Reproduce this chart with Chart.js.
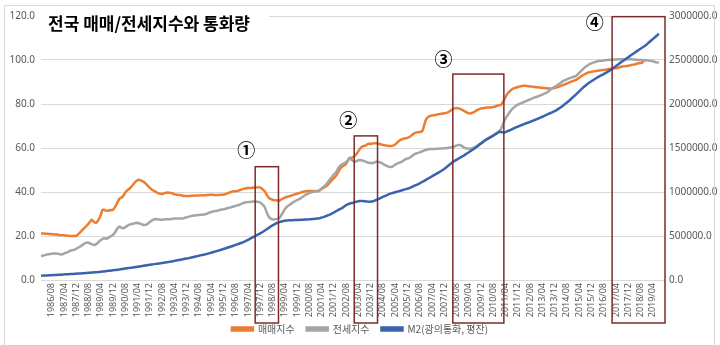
<!DOCTYPE html>
<html>
<head>
<meta charset="utf-8">
<script src="https://cdn.jsdelivr.net/npm/chart.js@4.4.0/dist/chart.umd.min.js"></script>
<style>
  html, body { margin: 0; padding: 0; background: #fff; }
  #wrap { width: 720px; height: 345px; position: relative; }
</style>
</head>
<body>
<div id="wrap"><canvas id="chart" width="720" height="345"></canvas></div>
<script>
// 월별 카테고리 1986/01 ~ 2019/12
var months = [];
for (var y = 1986; y <= 2019; y++) {
  for (var m = 1; m <= 12; m++) months.push(y + '/' + (m < 10 ? '0' + m : m));
}

// 축에 표시되는 라벨 (8개월 간격)
var tickLabels = ['1986/08','1987/04','1987/12','1988/08','1989/04','1989/12','1990/08','1991/04','1991/12','1992/08',
  '1993/04','1993/12','1994/08','1995/04','1995/12','1996/08','1997/04','1997/12','1998/08','1999/04',
  '1999/12','2000/08','2001/04','2001/12','2002/08','2003/04','2003/12','2004/08','2005/04','2005/12',
  '2006/08','2007/04','2007/12','2008/08','2009/04','2009/12','2010/08','2011/04','2011/12','2012/08',
  '2013/04','2013/12','2014/08','2015/04','2015/12','2016/08','2017/04','2017/12','2018/08','2019/04'];

// 매매지수 (연도별 12개월)
var saleIndex = [
  21.2,21.1,21.1,21.0,21.0,20.9,20.9,20.8,20.8,20.7,20.8,20.6,
  20.5,20.4,20.3,20.3,20.2,20.1,20.1,20.0,20.0,20.0,20.1,20.0,
  20.6,21.3,22.0,22.8,23.4,24.1,24.8,25.6,26.6,27.3,26.8,26.2,
  26.0,26.8,28.0,29.5,31.8,32.0,31.6,31.5,31.6,31.8,31.7,32.0,
  32.8,34.0,35.5,36.8,37.4,37.6,38.6,39.8,40.6,41.2,41.7,42.5,
  43.3,44.2,44.9,45.4,45.5,45.3,45.0,44.6,44.0,43.3,42.6,41.9,
  41.2,40.8,40.4,40.0,39.6,39.3,39.2,39.1,39.3,39.6,39.8,39.7,
  39.7,39.5,39.3,39.0,38.8,38.7,38.6,38.6,38.4,38.2,38.2,38.2,
  38.2,38.2,38.3,38.3,38.4,38.4,38.4,38.4,38.5,38.5,38.5,38.5,
  38.6,38.6,38.7,38.7,38.7,38.6,38.6,38.6,38.6,38.7,38.7,38.8,
  39.0,39.2,39.5,39.8,40.0,40.2,40.3,40.4,40.5,40.7,40.9,41.2,
  41.4,41.6,41.7,41.8,41.8,41.8,41.9,42.0,42.0,42.1,42.2,42.0,
  41.6,41.0,40.2,39.0,37.8,37.1,36.8,36.5,36.3,36.2,36.1,35.9,
  36.3,36.7,37.1,37.4,37.7,37.9,38.1,38.3,38.6,38.8,39.0,39.2,
  39.4,39.7,39.9,40.1,40.2,40.3,40.4,40.4,40.5,40.5,40.5,40.4,
  40.4,40.6,41.0,41.4,41.8,42.2,42.6,43.2,44.0,44.8,45.6,46.3,
  47.0,48.0,49.2,50.5,51.3,51.8,52.2,52.8,54.0,55.3,55.6,55.7,
  56.0,56.6,57.5,58.6,59.6,60.4,60.8,61.0,61.2,61.8,62.0,61.8,
  62.0,62.1,62.2,62.2,62.0,61.8,61.6,61.4,61.2,61.1,61.0,60.9,
  60.9,61.0,61.2,61.6,62.2,62.9,63.5,63.9,64.1,64.3,64.4,64.6,
  64.9,65.3,65.9,66.5,66.9,67.1,67.2,67.3,67.4,68.0,70.5,72.8,
  73.8,74.3,74.6,74.8,74.9,75.0,75.1,75.3,75.4,75.6,75.7,75.8,
  75.9,76.1,76.4,76.9,77.4,77.9,78.1,78.2,78.1,77.9,77.6,77.2,
  76.8,76.4,76.0,75.8,75.7,75.9,76.2,76.6,77.0,77.4,77.7,78.0,
  78.1,78.2,78.3,78.4,78.4,78.4,78.5,78.6,78.8,79.1,79.3,79.4,
  79.6,80.5,81.8,83.2,84.4,85.3,86.0,86.6,87.0,87.3,87.5,87.7,
  87.9,88.1,88.2,88.3,88.3,88.2,88.1,88.0,87.9,87.8,87.7,87.6,
  87.6,87.5,87.4,87.4,87.3,87.2,87.2,87.1,87.1,87.1,87.2,87.3,
  87.5,87.7,87.9,88.2,88.5,88.8,89.0,89.3,89.6,89.9,90.2,90.5,
  90.7,91.0,91.4,91.9,92.4,92.9,93.3,93.7,94.0,94.3,94.5,94.7,
  94.8,94.9,95.0,95.1,95.2,95.3,95.4,95.5,95.6,95.7,95.8,95.9,
  96.0,96.1,96.2,96.3,96.4,96.6,96.8,97.0,97.1,97.2,97.3,97.4,
  97.5,97.7,97.9,98.0,98.2,98.4,98.5,98.6,98.7,99.6,99.9,null,
  null,null,null,null,null,null,null,null,null,null,null,null
];

// 전세지수
var jeonseIndex = [
  10.9,11.0,11.2,11.4,11.6,11.7,11.8,11.9,12.0,12.1,12.1,11.9,
  11.8,11.6,11.7,12.0,12.3,12.6,12.9,13.3,13.5,13.6,13.8,14.2,
  14.6,15.0,15.4,15.9,16.4,16.8,17.0,16.9,16.6,16.3,16.0,15.9,
  16.3,16.9,17.6,18.2,18.6,19.0,18.9,18.8,19.2,19.7,20.1,20.5,
  21.3,22.5,23.6,24.2,24.0,23.5,23.6,24.0,24.5,24.9,25.2,25.5,
  25.6,25.8,25.9,26.0,25.8,25.5,25.2,25.0,25.0,25.3,25.8,26.4,
  26.9,27.3,27.6,27.7,27.6,27.5,27.4,27.4,27.5,27.6,27.6,27.6,
  27.6,27.7,27.8,27.9,27.9,27.9,28.0,28.0,28.0,28.1,28.3,28.5,
  28.7,28.9,29.1,29.2,29.3,29.4,29.4,29.5,29.6,29.7,29.8,29.9,
  30.1,30.4,30.7,30.9,31.1,31.3,31.4,31.5,31.7,31.9,32.0,32.1,
  32.3,32.5,32.7,32.9,33.1,33.3,33.5,33.7,33.9,34.1,34.4,34.7,
  35.0,35.2,35.3,35.4,35.5,35.6,35.7,35.7,35.7,35.6,35.5,35.2,
  34.6,34.0,33.0,31.2,29.5,28.3,27.8,27.6,27.5,27.6,27.8,28.0,
  28.6,29.8,31.0,32.2,33.0,33.6,34.1,34.6,35.1,35.6,36.0,36.3,
  36.6,37.0,37.5,38.0,38.5,38.9,39.2,39.5,39.8,40.0,40.1,40.2,
  40.2,40.3,40.8,41.5,42.2,42.8,43.5,44.3,45.3,46.2,47.2,48.0,
  48.6,49.6,50.9,51.9,52.4,52.8,53.2,53.6,54.3,55.1,55.0,54.4,
  53.9,53.8,54.1,54.4,54.5,54.4,54.2,54.0,53.7,53.4,53.2,53.3,
  53.1,53.3,53.6,53.8,53.7,53.5,53.2,52.8,52.4,52.0,51.7,51.5,
  51.4,51.5,51.9,52.4,52.8,53.1,53.4,53.7,54.1,54.6,55.0,55.2,
  55.4,55.8,56.4,56.9,57.3,57.6,57.8,58.0,58.3,58.6,58.9,59.1,
  59.3,59.4,59.5,59.5,59.6,59.6,59.7,59.7,59.8,59.8,59.8,59.9,
  59.9,60.0,60.1,60.2,60.3,60.5,60.8,61.1,61.4,61.4,61.2,60.7,
  60.2,59.9,59.8,59.8,59.6,59.9,60.1,60.4,60.8,61.3,61.8,62.3,
  62.8,63.3,63.8,64.2,64.6,65.0,65.4,65.8,66.3,66.8,67.3,67.9,
  68.6,70.2,72.0,73.5,74.6,75.6,76.6,77.5,78.2,78.8,79.3,79.7,
  80.0,80.3,80.6,80.9,81.2,81.5,81.8,82.1,82.4,82.7,83.0,83.2,
  83.4,83.7,84.0,84.3,84.6,84.9,85.3,85.7,86.3,86.9,87.4,87.8,
  88.2,88.7,89.2,89.7,90.2,90.6,90.9,91.2,91.5,91.8,92.1,92.3,
  92.5,92.8,93.4,94.1,94.8,95.5,96.2,96.8,97.3,97.8,98.2,98.5,
  98.8,99.0,99.2,99.4,99.5,99.6,99.7,99.8,99.9,100.0,100.0,100.1,
  100.1,100.1,100.2,100.2,100.2,100.3,100.3,100.3,100.3,100.3,100.3,100.3,
  100.3,100.3,100.2,100.2,100.1,100.1,100.0,100.0,100.0,99.9,99.9,99.9,
  99.8,99.7,99.6,99.4,99.2,99.0,98.9,98.8,null,null,null,null
];

// M2(광의통화, 평잔)
var m2 = [
  48800,49700,50600,51500,52400,53300,54200,55100,56100,57100,58100,59000,
  60000,61000,62000,63000,64000,65000,66000,67000,68000,69200,70300,71400,
  72500,73700,74900,76100,77400,78700,80000,81400,82800,84200,85700,86900,
  87500,89500,91500,93500,95500,97500,99600,101700,103900,106100,108300,110400,
  112500,114900,117300,119800,122300,124800,127300,129900,132500,135100,137700,140100,
  142500,145200,147900,150600,153300,156000,158700,161500,164300,167100,169900,172500,
  175000,177700,180400,183100,185800,188500,191200,193900,196600,199300,202100,204800,
  207500,210800,214100,217400,220700,224000,227300,230700,234100,237500,240900,244200,
  247500,251400,255300,259300,263300,267300,271300,275400,279500,283600,287700,291400,
  295000,300000,305000,310000,315100,320200,325300,330500,335700,341000,346300,352000,
  357500,363300,369100,375000,381000,387000,393000,399100,405300,411500,417700,423800,
  430000,438000,446500,455300,465000,475000,485000,494000,503000,512000,521000,530500,
  540000,551000,562500,574000,586000,598000,610000,620000,630000,640000,648000,655000,
  660000,665000,670000,673000,675000,677000,678000,679000,680000,681000,681500,682000,
  682500,683500,684500,685500,686500,687500,688500,689500,691000,692500,694000,696000,
  698000,700000,704000,709000,714000,720000,727000,734000,741000,749000,757500,767000,
  777000,787000,797000,806000,815000,825000,838000,852500,860000,866000,872000,876000,
  880000,886000,891000,895000,897000,898000,897000,895000,893000,891000,890000,891000,
  893000,898000,905000,912000,920000,928000,936000,944000,952000,960000,968000,975000,
  982000,987000,992000,997000,1002000,1007000,1012000,1017000,1022500,1027500,1032500,1037500,
  1042500,1050000,1058000,1066000,1074000,1082000,1090000,1099000,1108000,1117000,1127000,1137500,
  1148000,1158000,1168000,1178000,1188000,1198000,1208000,1218000,1228000,1238000,1250000,1262000,
  1276000,1290000,1304000,1318000,1332000,1346000,1356000,1366000,1376000,1386000,1396000,1406000,
  1416000,1428000,1440000,1451000,1462500,1474000,1486000,1498000,1511000,1524000,1537000,1550000,
  1563000,1576000,1590000,1600000,1610000,1620000,1630000,1640000,1650000,1662000,1674000,1685000,
  1682000,1678000,1675000,1680000,1688000,1696000,1704000,1712000,1720000,1728000,1736000,1743000,
  1750000,1757000,1764000,1771000,1778000,1784000,1790000,1797000,1804000,1811000,1818000,1825000,
  1832000,1839000,1847000,1855000,1863000,1871000,1879000,1887000,1895000,1903000,1911000,1919000,
  1928000,1939000,1950000,1962000,1975000,1988000,2002000,2016000,2031000,2046000,2062000,2078000,
  2094000,2110000,2127000,2144000,2161000,2178000,2193000,2207000,2221000,2235000,2247000,2259000,
  2270000,2281000,2292000,2303000,2313000,2322000,2330000,2340000,2350000,2360000,2371000,2382000,
  2393000,2405000,2418000,2431000,2444000,2457000,2470000,2482000,2494000,2507000,2520000,2532000,
  2544000,2556000,2568000,2580000,2592000,2604000,2616000,2628000,2639000,2650000,2663000,2677000,
  2692000,2707000,2722000,2737000,2752000,2767000,2783000,2800000,null,null,null,null
];

// 강조 구간 (월 인덱스, 상단 값은 왼쪽 축 기준)
var highlights = [
  { from: 139.7, to: 154.9, top: 51.5, tag: '①', tagAt: 133.8, tagY: 58.8 },
  { from: 204.3, to: 219.5, top: 65.5, tag: '②', tagAt: 200.4, tagY: 72.7 },
  { from: 268.6, to: 301.9, top: 93.6, tag: '③', tagAt: 262.6, tagY: 100.5 },
  { from: 372.5, to: 407.0, top: 119.7, tag: '④', tagAt: 361.2, tagY: 117.0 }
];

var FONT = '"Noto Sans", "Noto Sans CJK KR", sans-serif';
var KFONT = '"Noto Sans CJK KR", sans-serif';

// 제목, 강조 박스, 번호 그리기
var overlay = {
  id: 'overlay',
  afterLayout: function (chart) {
    // 범례를 x축 라벨 쪽으로 조금 끌어올림
    chart.legend.top -= 8;
    chart.legend.bottom -= 8;
  },
  afterDatasetsDraw: function (chart) {
    var ctx = chart.ctx, x = chart.scales.x, yl = chart.scales.y;
    var bottom = chart.chartArea.bottom + 43;
    ctx.save();
    ctx.strokeStyle = '#7B2B2B';
    ctx.lineWidth = 1.5;
    highlights.forEach(function (h) {
      var x1 = x.getPixelForValue(h.from), x2 = x.getPixelForValue(h.to);
      var t = yl.getPixelForValue(h.top);
      ctx.strokeRect(x1, t, x2 - x1, bottom - t);
      ctx.fillStyle = '#000';
      ctx.font = 'bold 18px ' + KFONT;
      ctx.textAlign = 'center';
      ctx.textBaseline = 'middle';
      ctx.fillText(h.tag, x.getPixelForValue(h.tagAt), yl.getPixelForValue(h.tagY));
    });
    ctx.restore();
  },
  afterDraw: function (chart) {
    var ctx = chart.ctx;
    ctx.save();
    ctx.fillStyle = '#fff';
    ctx.fillRect(chart.chartArea.left, 8, 228, 30);
    ctx.fillStyle = '#000';
    ctx.font = 'bold 17px ' + KFONT;
    ctx.textAlign = 'left';
    ctx.textBaseline = 'middle';
    ctx.fillText('전국 매매/전세지수와 통화량', 48, 24);
    ctx.strokeStyle = '#d9d9d9';
    ctx.lineWidth = 1;
    ctx.strokeRect(4.5, 5.5, 710, 345);
    ctx.restore();
  }
};

var tickSet = new Set(tickLabels);

new Chart(document.getElementById('chart'), {
  type: 'line',
  data: {
    labels: months,
    datasets: [
      { label: '매매지수', data: saleIndex, borderColor: '#ED7D31', backgroundColor: '#ED7D31', yAxisID: 'y', order: 3 },
      { label: '전세지수', data: jeonseIndex, borderColor: '#A5A5A5', backgroundColor: '#A5A5A5', yAxisID: 'y', order: 2 },
      { label: 'M2(광의통화, 평잔)', data: m2, borderColor: '#3A63AD', backgroundColor: '#3A63AD', yAxisID: 'y2', order: 1 }
    ]
  },
  options: {
    responsive: false,
    animation: false,
    devicePixelRatio: 1,
    elements: { point: { radius: 0 }, line: { borderWidth: 2.5, tension: 0 } },
    layout: { padding: { top: 16, bottom: 0, left: 0, right: 0 } },
    plugins: {
      legend: {
        position: 'bottom',
        maxHeight: 25,
        labels: {
          boxWidth: 21, boxHeight: 3, padding: 12, color: '#595959',
          font: { size: 10, family: KFONT },
          sort: function (a, b) { return a.datasetIndex - b.datasetIndex; }
        }
      },
      tooltip: { enabled: false }
    },
    scales: {
      x: {
        offset: false,
        grid: { display: false, drawTicks: false },
        border: { display: false },
        ticks: { autoSkip: false, maxRotation: 90, minRotation: 90, padding: 3, color: '#595959', font: { size: 9, family: FONT } },
        afterBuildTicks: function (s) { s.ticks = s.ticks.filter(function (t) { return tickSet.has(months[t.value]); }); },
        afterFit: function (s) { s.height = 40; }
      },
      y: {
        position: 'left', min: 0, max: 120,
        ticks: { stepSize: 20, padding: 6, color: '#595959', font: { size: 10, family: FONT }, callback: function (v) { return v.toFixed(1); } },
        grid: { color: '#d9d9d9', drawTicks: false },
        border: { display: false },
        afterFit: function (s) { s.width = 41; }
      },
      y2: {
        position: 'right', min: 0, max: 3000000,
        ticks: { stepSize: 500000, padding: 4, color: '#595959', font: { size: 10, family: FONT }, callback: function (v) { return v.toFixed(1); } },
        grid: { display: false, drawTicks: false },
        border: { display: false },
        afterFit: function (s) { s.width = 55; }
      }
    }
  },
  plugins: [overlay]
});
</script>
</body>
</html>
